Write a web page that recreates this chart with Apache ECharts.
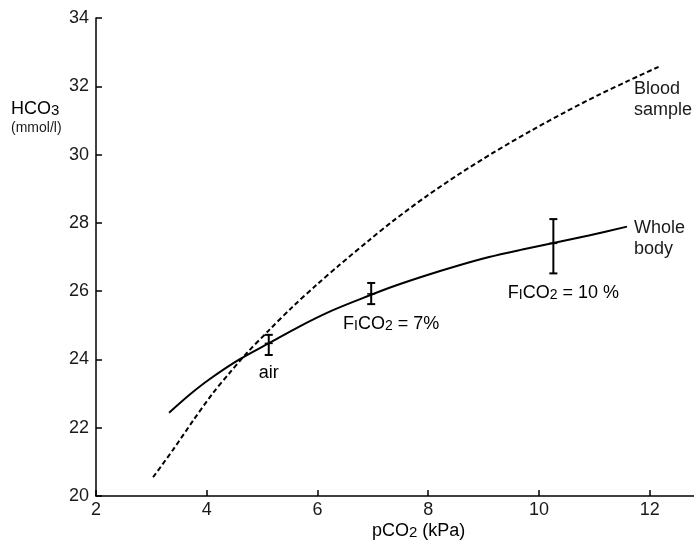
<!DOCTYPE html>
<html>
<head>
<meta charset="utf-8">
<script src="https://cdn.jsdelivr.net/npm/echarts@6/dist/echarts.min.js"></script>
<style>html,body{margin:0;padding:0;background:#fff;}#c{width:694px;height:546px;}</style>
</head>
<body>
<div id="c"></div>
<script>
// Axis ticks
const xTicks = [2, 4, 6, 8, 10, 12];
const yTicks = [20, 22, 24, 26, 28, 30, 32, 34];

// Blood sample curve (dashed)
const bloodX = [3.03, 3.39, 3.75, 4.11, 4.40, 4.72, 5.14, 5.55, 5.98, 6.40, 6.94, 7.36, 7.96, 8.56, 9.16, 9.88, 10.48, 11.08, 11.60, 12.16];
const bloodY = [20.55, 21.35, 22.20, 23.01, 23.58, 24.18, 24.88, 25.54, 26.18, 26.77, 27.50, 28.05, 28.77, 29.43, 30.04, 30.72, 31.25, 31.75, 32.15, 32.57];

// Whole body curve (solid)
const wholeX = [3.32, 3.70, 4.05, 4.59, 5.14, 5.68, 6.22, 6.76, 7.30, 7.90, 8.50, 9.10, 9.70, 10.26, 10.90, 11.59];
const wholeY = [22.44, 22.98, 23.42, 24.00, 24.49, 24.97, 25.40, 25.76, 26.10, 26.43, 26.73, 27.00, 27.22, 27.41, 27.63, 27.89];

// Measured points with error bars
const errX = [5.12, 6.97, 10.26];
const errMid = [24.47, 25.92, 27.40];
const errLow = [24.13, 25.62, 26.52];
const errHigh = [24.72, 26.24, 28.11];
const errNames = ['air', 'FICO2 = 7%', 'FICO2 = 10 %'];

const FONT = '"Liberation Sans", Arial, sans-serif';
const TXT = '#1a1a1a';

const chart = echarts.init(document.getElementById('c'));

const zip = (a, b) => a.map((v, i) => [v, b[i]]);

const rich = {
  n: { fontSize: 18, fontFamily: FONT, color: TXT, verticalAlign: 'bottom', lineHeight: 20 },
  s: { fontSize: 14, fontFamily: FONT, color: TXT, verticalAlign: 'bottom', lineHeight: 19 }
};
function fmtFi(str) {
  if (str.indexOf('FICO2') !== 0) return '{n|' + str + '}';
  return '{n|F}{s|I}{n|CO}{s|2}{n|' + str.slice(5) + '}';
}
const labelOffsets = [[0, 17], [20, 19], [10, 19]];

const option = {
  animation: false,
  backgroundColor: '#fff',
  grid: { left: 96, right: 0, top: 18, bottom: 50 },
  xAxis: {
    type: 'value', min: 2, max: 12.8, interval: 2,
    axisLine: { show: true, lineStyle: { color: '#000', width: 1.5 } },
    axisTick: { show: true, inside: true, length: 6, lineStyle: { color: '#000', width: 1.5 } },
    axisLabel: { showMaxLabel: false, fontSize: 18, fontFamily: FONT, color: TXT, margin: 5,
      formatter: v => (xTicks.indexOf(v) >= 0 ? String(v) : '') },
    splitLine: { show: false }
  },
  yAxis: {
    type: 'value', min: 20, max: 34, interval: 2,
    axisLine: { show: true, lineStyle: { color: '#000', width: 1.5 } },
    axisTick: { show: true, inside: true, length: 6, lineStyle: { color: '#000', width: 1.5 } },
    axisLabel: { fontSize: 18, fontFamily: FONT, color: TXT, margin: 7,
      formatter: v => (yTicks.indexOf(v) >= 0 ? String(v) : '') },
    splitLine: { show: false }
  },
  series: [
    {
      name: 'Blood sample', type: 'line', smooth: 0.3, symbol: 'none',
      data: zip(bloodX, bloodY),
      lineStyle: { color: '#000', width: 2, type: [5, 3] }
    },
    {
      name: 'Whole body', type: 'line', smooth: 0.3, symbol: 'none',
      data: zip(wholeX, wholeY),
      lineStyle: { color: '#000', width: 2 }
    },
    {
      name: 'Measured', type: 'custom',
      data: errX.map((x, i) => [x, errLow[i], errHigh[i], errMid[i]]),
      renderItem: function (params, api) {
        const i = params.dataIndex;
        const x = api.value(0);
        const top = api.coord([x, api.value(2)]);
        const bot = api.coord([x, api.value(1)]);
        const mid = api.coord([x, api.value(3)]);
        const cap = 4;
        const st = { stroke: '#000', lineWidth: 2 };
        const off = labelOffsets[i];
        return {
          type: 'group',
          children: [
            { type: 'line', shape: { x1: top[0], y1: top[1], x2: bot[0], y2: bot[1] }, style: st },
            { type: 'line', shape: { x1: top[0] - cap, y1: top[1], x2: top[0] + cap, y2: top[1] }, style: st },
            { type: 'line', shape: { x1: bot[0] - cap, y1: bot[1], x2: bot[0] + cap, y2: bot[1] }, style: st },
            { type: 'line', shape: { x1: mid[0] - 4, y1: mid[1], x2: mid[0] + 4, y2: mid[1] }, style: { stroke: '#000', lineWidth: 1.5 } },
            { type: 'text', x: bot[0] + off[0], y: bot[1] + off[1],
              style: { text: fmtFi(errNames[i]), rich: rich, align: 'center', verticalAlign: 'middle' } }
          ]
        };
      }
    }
  ],
  graphic: [
    { type: 'text', left: 11, top: 100, style: { text: '{n|HCO}{s|3}', rich: {
      n: { fontSize: 18, fontFamily: FONT, color: TXT, verticalAlign: 'bottom', lineHeight: 20 },
      s: { fontSize: 15, fontFamily: FONT, color: TXT, verticalAlign: 'bottom', lineHeight: 19 } } } },
    { type: 'text', left: 11, top: 121, style: { text: '(mmol/l)', fontSize: 14, fontFamily: FONT, fill: TXT } },
    { type: 'text', left: 634, top: 79, style: { text: 'Blood\nsample', fontSize: 18, lineHeight: 21, fontFamily: FONT, fill: TXT } },
    { type: 'text', left: 634, top: 218, style: { text: 'Whole\nbody', fontSize: 18, lineHeight: 21, fontFamily: FONT, fill: TXT } },
    { type: 'text', left: 372, top: 522, style: { text: '{n|pCO}{s|2}{n| (kPa)}', rich: {
      n: { fontSize: 18, fontFamily: FONT, color: TXT, verticalAlign: 'bottom', lineHeight: 20 },
      s: { fontSize: 15, fontFamily: FONT, color: TXT, verticalAlign: 'bottom', lineHeight: 19 } } } }
  ]
};
chart.setOption(option);
</script>
</body>
</html>
